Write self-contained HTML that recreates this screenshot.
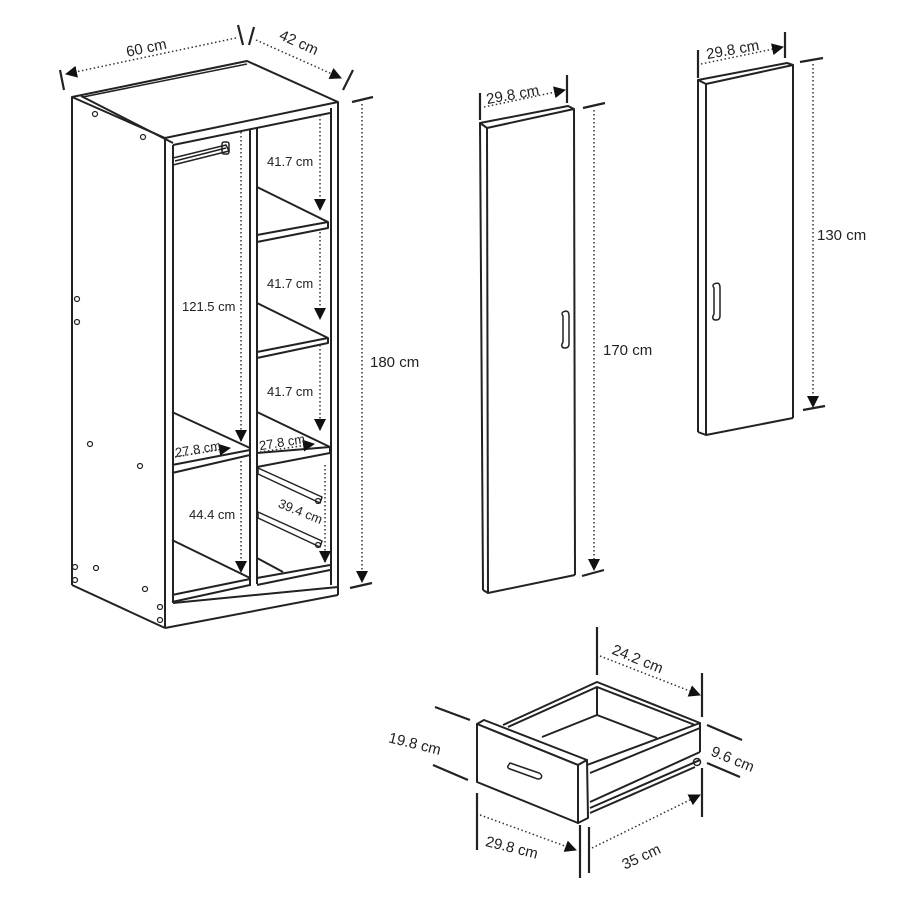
<!DOCTYPE html>
<html><head><meta charset="utf-8"><style>
html,body{margin:0;padding:0;background:#fff}
svg{display:block}
text{font-family:"Liberation Sans",sans-serif;fill:#222}
</style></head><body>
<svg width="900" height="900" viewBox="0 0 900 900" xmlns="http://www.w3.org/2000/svg">
<defs>
<marker id="ar" markerWidth="12" markerHeight="12" refX="11" refY="6" orient="auto" markerUnits="userSpaceOnUse"><path d="M0,0 L12,6 L0,12 z" fill="#111"/></marker>
</defs>
<g fill="none" stroke="#222" stroke-width="2" stroke-linejoin="round">
<polygon points="72,97 247,61 338,102 165,138" fill="#fff"/>
<line x1="83" y1="97" x2="247" y2="64" stroke-width="1.5"/>
<line x1="81" y1="96" x2="173" y2="143"/>
<line x1="72" y1="97" x2="72" y2="585"/>
<line x1="72" y1="585" x2="165" y2="628"/>
<line x1="165" y1="138" x2="165" y2="628"/>
<line x1="173" y1="145" x2="173" y2="603"/>
<line x1="173" y1="145" x2="330" y2="113"/>
<line x1="338" y1="102" x2="338" y2="595"/>
<line x1="331" y1="108" x2="331" y2="585"/>
<line x1="165" y1="628" x2="338" y2="595"/>
<line x1="173" y1="603" x2="338" y2="587"/>
<line x1="250" y1="130" x2="250" y2="586"/>
<line x1="257" y1="128" x2="257" y2="584"/>
<polygon points="173,158 226,145 229,151 173,165" stroke-width="1.5"/>
<line x1="175" y1="161" x2="226" y2="148" stroke-width="1.5"/>
<rect x="222" y="142" width="7" height="12" rx="2" stroke-width="1.5"/>
<polyline points="257,187 328,222 328,228 257,242"/><line x1="257" y1="235" x2="328" y2="222"/>
<polyline points="257,303 328,338 328,343 257,358"/><line x1="257" y1="352" x2="328" y2="338"/>
<polyline points="257,412 330,447 330,453 257,467"/><line x1="257" y1="453" x2="330" y2="447"/>
<polyline points="172,412 250,448 250,455 172,473"/><line x1="172" y1="465" x2="250" y2="450"/>
<polyline points="172,540 250,578 250,585 172,602"/><line x1="172" y1="595" x2="250" y2="579"/>
<line x1="257" y1="558" x2="283" y2="572"/>
<line x1="257" y1="578" x2="330" y2="565"/><line x1="257" y1="585" x2="330" y2="570"/>
<polygon points="258,468 322,497 320,503 258,474" stroke-width="1.5"/>
<polygon points="258,512 322,541 320,547 258,518" stroke-width="1.5"/>
<g stroke-width="1.2">
<circle cx="95" cy="114" r="2.5"/><circle cx="143" cy="137" r="2.5"/><circle cx="77" cy="299" r="2.5"/><circle cx="77" cy="322" r="2.5"/>
<circle cx="90" cy="444" r="2.5"/><circle cx="140" cy="466" r="2.5"/><circle cx="75" cy="567" r="2.5"/><circle cx="96" cy="568" r="2.5"/>
<circle cx="75" cy="580" r="2.5"/><circle cx="145" cy="589" r="2.5"/><circle cx="160" cy="607" r="2.5"/><circle cx="160" cy="620" r="2.5"/>
<circle cx="318" cy="501" r="2.5"/><circle cx="318" cy="545" r="2.5"/>
</g>
<polygon points="480,123 568,106 574,109 487,128" fill="#fff"/>
<line x1="480" y1="123" x2="483" y2="590"/>
<line x1="487" y1="128" x2="488" y2="593"/>
<line x1="574" y1="109" x2="575" y2="575"/>
<polyline points="483,590 488,593 575,575"/>
<path d="M563,312 q6,-3 6,4 v28 q0,4 -4,4 q-4,0 -3,-4 l1,-2 v-26 q-2,-3 0,-4z" stroke-width="1.5"/>
<polygon points="698,80 787,63 793,65 706,84" fill="#fff"/>
<line x1="698" y1="80" x2="698" y2="432"/>
<line x1="706" y1="84" x2="706" y2="435"/>
<line x1="793" y1="65" x2="793" y2="418"/>
<polyline points="698,432 706,435 793,418"/>
<path d="M714,284 q6,-3 6,4 v28 q0,4 -4,4 q-4,0 -3,-4 l1,-2 v-26 q-2,-3 0,-4z" stroke-width="1.5"/>
<polyline points="503,725 597,682 700,723 587,765"/>
<polyline points="508,727 597,687 695,725"/>
<line x1="597" y1="687" x2="597" y2="715"/>
<polyline points="542,737 597,715 657,738"/>
<polyline points="590,773 700,728"/>
<line x1="700" y1="723" x2="700" y2="752"/>
<line x1="590" y1="802" x2="700" y2="752"/>
<line x1="590" y1="808" x2="700" y2="760"/>
<line x1="590" y1="813" x2="695" y2="767"/>
<circle cx="697" cy="762" r="3.5" stroke-width="1.5"/>
<polygon points="477,724 484,720 587,760 578,765" fill="#fff"/>
<polygon points="477,724 578,765 578,823 477,782" fill="#fff"/>
<polygon points="578,765 587,760 588,818 578,823" fill="#fff"/>
<path d="M508,766 l2,-3 l29,10 q4,2 2,5 q-2,2 -6,0 l-25,-9 q-3,-1 -2,-3z" stroke-width="1.5"/>
</g>
<g stroke="#222" stroke-width="2.2" fill="none">
<line x1="60" y1="70" x2="64" y2="90"/><line x1="238" y1="25" x2="243" y2="45"/><line x1="249" y1="45" x2="254" y2="27"/><line x1="343" y1="90" x2="353" y2="70"/>
<line x1="352" y1="102" x2="373" y2="97"/><line x1="350" y1="588" x2="372" y2="583"/>
<line x1="480" y1="93" x2="480" y2="120"/><line x1="567" y1="75" x2="567" y2="103"/>
<line x1="583" y1="108" x2="605" y2="103"/><line x1="582" y1="576" x2="604" y2="570"/>
<line x1="698" y1="50" x2="698" y2="78"/><line x1="785" y1="32" x2="785" y2="58"/>
<line x1="800" y1="62" x2="823" y2="58"/><line x1="803" y1="410" x2="825" y2="406"/>
<line x1="597" y1="627" x2="597" y2="675"/><line x1="702" y1="673" x2="702" y2="717"/>
<line x1="707" y1="725" x2="742" y2="740"/><line x1="707" y1="763" x2="740" y2="777"/>
<line x1="435" y1="707" x2="470" y2="720"/><line x1="433" y1="765" x2="468" y2="780"/>
<line x1="477" y1="793" x2="477" y2="850"/><line x1="580" y1="825" x2="580" y2="878"/>
<line x1="589" y1="827" x2="589" y2="873"/><line x1="702" y1="768" x2="702" y2="817"/>
</g>
<g stroke="#333" stroke-width="1.5" stroke-dasharray="1.5,2.5" fill="none" marker-end="url(#ar)">
<line x1="236" y1="38" x2="66" y2="74"/>
<line x1="256" y1="40" x2="341" y2="78"/>
<line x1="362" y1="104" x2="362" y2="582"/>
<line x1="484" y1="107" x2="565" y2="90"/>
<line x1="594" y1="110" x2="594" y2="570"/>
<line x1="701" y1="64" x2="783" y2="47"/>
<line x1="813" y1="64" x2="813" y2="407"/>
<line x1="241" y1="132" x2="241" y2="441"/>
<line x1="320" y1="115" x2="320" y2="210"/>
<line x1="320" y1="232" x2="320" y2="319"/>
<line x1="320" y1="345" x2="320" y2="430"/>
<line x1="175" y1="457" x2="230" y2="448"/>
<line x1="260" y1="452" x2="314" y2="444"/>
<line x1="241" y1="461" x2="241" y2="572"/>
<line x1="325" y1="465" x2="325" y2="562"/>
<line x1="600" y1="656" x2="700" y2="695"/>
<line x1="480" y1="815" x2="576" y2="850"/>
<line x1="592" y1="848" x2="700" y2="795"/>
</g>
<g font-size="15">
<text x="126" y="52" transform="rotate(-12 150 48)">60 cm</text>
<text x="278" y="48" transform="rotate(24 300 44)">42 cm</text>
<text x="370" y="367">180 cm</text>
<text x="486" y="100" transform="rotate(-10 510 95)">29.8 cm</text>
<text x="603" y="355">170 cm</text>
<text x="706" y="55" transform="rotate(-10 730 50)">29.8 cm</text>
<text x="817" y="240">130 cm</text>
<g font-size="13">
<text x="267" y="166">41.7 cm</text>
<text x="267" y="288">41.7 cm</text>
<text x="267" y="396">41.7 cm</text>
<text x="182" y="311">121.5 cm</text>
<text x="175" y="454" transform="rotate(-9 195 450)">27.8 cm</text>
<text x="259" y="447" transform="rotate(-9 280 443)">27.8 cm</text>
<text x="189" y="519">44.4 cm</text>
<text x="277" y="515" transform="rotate(22 298 512)">39.4 cm</text>
</g>
<text x="610" y="665" transform="rotate(22 640 662)">24.2 cm</text>
<text x="710" y="765" transform="rotate(22 735 760)">9.6 cm</text>
<text x="388" y="748" transform="rotate(14 412 744)">19.8 cm</text>
<text x="485" y="852" transform="rotate(14 510 848)">29.8 cm</text>
<text x="620" y="862" transform="rotate(-25 640 855)">35 cm</text>
</g>
</svg>
</body></html>
